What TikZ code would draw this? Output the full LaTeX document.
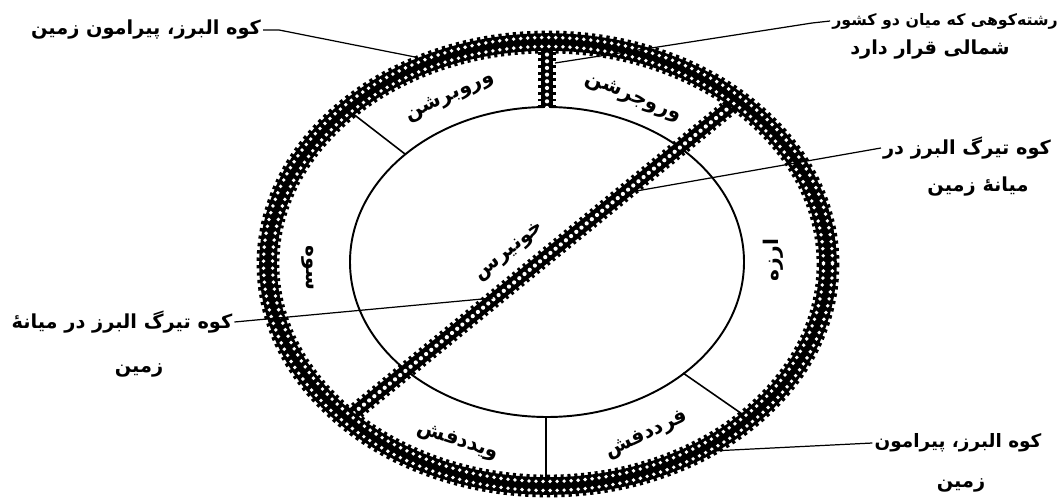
\documentclass[tikz,border=0pt]{standalone}
\usepackage{fontspec}
\newfontfamily\fafont[Script=Arabic]{DejaVu Sans}
\TeXXeTstate=1
\newcommand{\fa}[1]{{\fafont\bfseries\beginR #1\endR}}

\tikzset{
	mountain/.style={line width=10pt, dash pattern=on 1.6pt off 2.2pt,
		postaction={draw, solid, line width=7pt},
		postaction={draw=white, line width=2.4pt, line cap=round, dash pattern=on 0pt off 3.8pt}},
	ring/.style={line width=13pt, dash pattern=on 1.8pt off 2.2pt,
		postaction={draw, solid, line width=10pt}},
	ringdots/.style={draw=white, line width=2.2pt, line cap=round, dash pattern=on 0pt off 4pt},
	border/.style={line width=0.9pt},
	lead/.style={line width=0.7pt},
	part/.style={font=\fontsize{11.5}{13}\selectfont, inner sep=1pt},
	note/.style={font=\fontsize{11}{13}\selectfont, inner sep=1pt},
}

\begin{document}
\begin{tikzpicture}[x=0.02cm, y=-0.02cm]
	\useasboundingbox (0,0) rectangle (1062,500);

	% inner land and the borders of the karshvars
	\draw[line width=1.1pt] (547,262) ellipse [x radius=197, y radius=155];
	\draw[border] (405,154) -- (352,113);
	\draw[border] (683,373) -- (745,416);
	\draw[border] (546,417) -- (546,482);

	% mountain ranges
	\draw[mountain] (547,108) -- (547,46);
	\draw[mountain] (742,97) -- (350,416);
	\draw[ring] (548,264) ellipse [x radius=280, y radius=222];
	\draw[ringdots] (548,264) ellipse [x radius=275.5, y radius=217.5];
	\draw[ringdots] (548,264) ellipse [x radius=284.5, y radius=226.5];

	% karshvars
	\node[part, rotate=25] (vb) at (450,97) {\fa{وروبرشن}};
	\node[part, rotate=-22] (vj) at (633,98) {\fa{وروجرشن}};
	\node[part, rotate=90] (ar) at (773,260) {\fa{ارزه}};
	\node[part, rotate=25] (fr) at (647,435) {\fa{فرددفش}};
	\node[part, rotate=-18] (vd) at (458,442) {\fa{ویددفش}};
	\node[part, rotate=-90] (sv) at (308,268) {\fa{سوه}};
	\node[part, rotate=39] (xv) at (510,252) {\fa{خونیرس}};

	% notes
	\node[note] (tl) at (146,30) {\fa{کوه البرز، پیرامون زمین}};
	\node[note, font=\fontsize{9}{11}\selectfont] (tr) at (945,21) {\fa{رشته‌کوهی که میان دو کشور}};
	\node[note] (tr2) at (930,50) {\fa{شمالی قرار دارد}};
	\node[note] (rt) at (967,148) {\fa{کوه تیرگ البرز در}};
	\node[note] (rt2) at (978,187) {\fa{میانهٔ زمین}};
	\node[note] (lf) at (122,322) {\fa{کوه تیرگ البرز در میانهٔ}};
	\node[note] (lf2) at (139,370) {\fa{زمین}};
	\node[note, font=\fontsize{10.5}{12}\selectfont] (br) at (958,443) {\fa{کوه البرز، پیرامون}};
	\node[note] (br2) at (961,485) {\fa{زمین}};

	\coordinate (tlp) at (415,57);
	\coordinate (trp) at (555,63);
	\coordinate (rtp) at (625,193);
	\coordinate (lfp) at (493,298);
	\coordinate (brp) at (712,451);

	\draw[lead] (tl.east) -- ++(16,0) -- (tlp);
	\draw[lead] (tr.west) -- ++(-18,2) -- (trp);
	\draw[lead] (rt.west) -- (rtp);
	\draw[lead] (lf.east) -- (lfp);
	\draw[lead] (br.west) -- (brp);
\end{tikzpicture}
\end{document}
